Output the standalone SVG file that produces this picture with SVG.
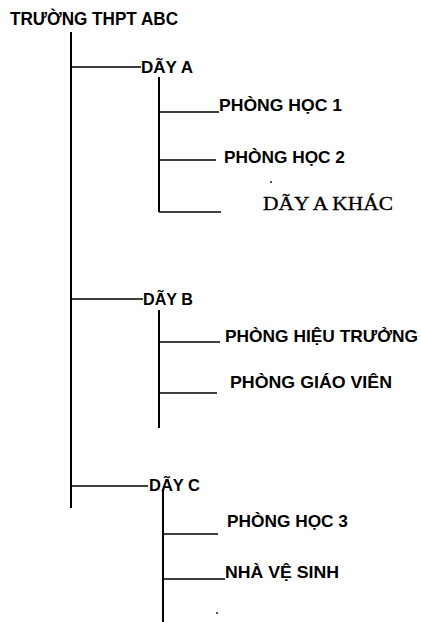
<svg xmlns="http://www.w3.org/2000/svg" width="421" height="622" viewBox="0 0 421 622">
<style>
.t{font-family:"Liberation Sans",Arial,sans-serif;font-weight:bold;font-size:17px;fill:#000}
.s{font-family:"Liberation Serif","Times New Roman",serif;font-size:18px;fill:#000;stroke:#000;stroke-width:0.3}
.v{stroke:#000;stroke-width:2;fill:none}
.h{stroke:#000;stroke-width:1.6;fill:none}
</style>
<rect width="421" height="622" fill="#fff"/>
<g id="connectors">
<line class="v" x1="71" y1="32" x2="71" y2="508"/>
<line class="h" x1="71" y1="67" x2="141" y2="67"/>
<line class="v" x1="159" y1="77" x2="159" y2="212"/>
<line class="h" x1="159" y1="112" x2="219" y2="112"/>
<line class="h" x1="159" y1="160" x2="216" y2="160"/>
<line class="h" x1="159" y1="212" x2="221" y2="212"/>
<line class="h" x1="71" y1="299" x2="143" y2="299"/>
<line class="v" x1="159" y1="310" x2="159" y2="428"/>
<line class="h" x1="159" y1="342" x2="220" y2="342"/>
<line class="h" x1="159" y1="393" x2="217" y2="393"/>
<line class="h" x1="71" y1="486" x2="148" y2="486"/>
<line class="v" x1="163" y1="490" x2="163" y2="622"/>
<line class="h" x1="163" y1="534" x2="218" y2="534"/>
<line class="h" x1="163" y1="579" x2="225" y2="579"/>
<circle cx="271" cy="182" r="0.9" fill="#000"/>
<circle cx="217" cy="613" r="0.9" fill="#000"/>
</g>
<g id="root"><text class="t" x="10" y="25" style="font-size:19px" textLength="168" lengthAdjust="spacingAndGlyphs">TRƯỜNG THPT ABC</text></g>
<g id="dayA"><text class="t" x="141" y="73" textLength="52" lengthAdjust="spacingAndGlyphs">DÃY A</text></g>
<g id="phonghoc1"><text class="t" x="219" y="111" textLength="123" lengthAdjust="spacingAndGlyphs">PHÒNG HỌC 1</text></g>
<g id="phonghoc2"><text class="t" x="224" y="163" textLength="121" lengthAdjust="spacingAndGlyphs">PHÒNG HỌC 2</text></g>
<g id="dayAkhac"><text class="s" x="263" y="210" textLength="130" lengthAdjust="spacingAndGlyphs">DÃY A KHÁC</text></g>
<g id="dayB"><text class="t" x="143" y="305" textLength="50" lengthAdjust="spacingAndGlyphs">DÃY B</text></g>
<g id="phonghieutruong"><text class="t" x="225" y="342" textLength="193" lengthAdjust="spacingAndGlyphs">PHÒNG HIỆU TRƯỞNG</text></g>
<g id="phonggiaovien"><text class="t" x="230" y="388" textLength="162" lengthAdjust="spacingAndGlyphs">PHÒNG GIÁO VIÊN</text></g>
<g id="dayC"><text class="t" x="149" y="491" textLength="51" lengthAdjust="spacingAndGlyphs">DÃY C</text></g>
<g id="phonghoc3"><text class="t" x="227" y="527" textLength="121" lengthAdjust="spacingAndGlyphs">PHÒNG HỌC 3</text></g>
<g id="nhavesinh"><text class="t" x="225" y="578" textLength="114" lengthAdjust="spacingAndGlyphs">NHÀ VỆ SINH</text></g>
</svg>
